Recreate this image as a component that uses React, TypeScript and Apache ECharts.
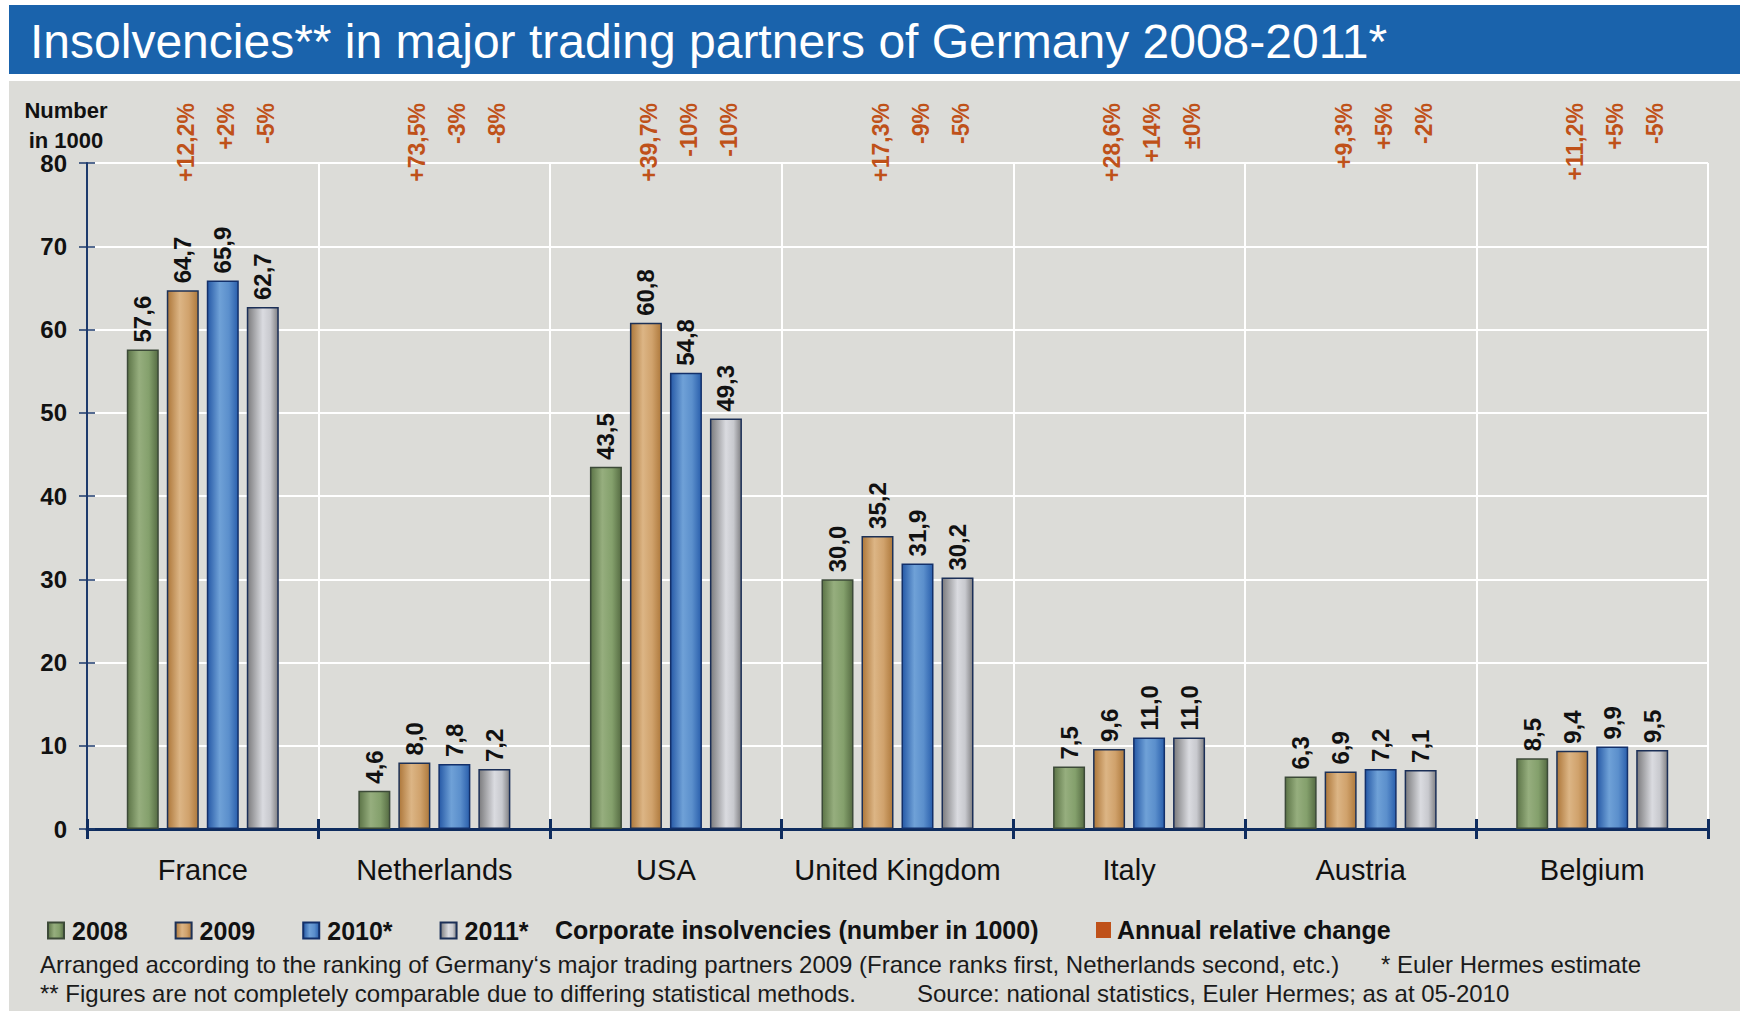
import React, { useEffect, useRef } from 'react';
import * as echarts from 'echarts';

const COUNTRIES = ['France', 'Netherlands', 'USA', 'United Kingdom', 'Italy', 'Austria', 'Belgium'];
const YEARS = ['2008', '2009', '2010*', '2011*'];
const V2008 = [57.6, 4.6, 43.5, 30.0, 7.5, 6.3, 8.5];
const V2009 = [64.7, 8.0, 60.8, 35.2, 9.6, 6.9, 9.4];
const V2010 = [65.9, 7.8, 54.8, 31.9, 11.0, 7.2, 9.9];
const V2011 = [62.7, 7.2, 49.3, 30.2, 11.0, 7.1, 9.5];
const PCT2009 = ['+12,2%', '+73,5%', '+39,7%', '+17,3%', '+28,6%', '+9,3%', '+11,2%'];
const PCT2010 = ['+2%', '-3%', '-10%', '-9%', '+14%', '+5%', '+5%'];
const PCT2011 = ['-5%', '-8%', '-10%', '-5%', '±0%', '-2%', '-5%'];
const Y_MIN = 0;
const Y_MAX = 80;
const Y_STEP = 10;

const TITLE = 'Insolvencies** in major trading partners of Germany 2008-2011*';
const Y_NAME = ['Number', 'in 1000'];
const LEGEND_NOTE = 'Corporate insolvencies (number in 1000)';
const LEGEND_PCT = 'Annual relative change';
const NOTE1 = 'Arranged according to the ranking of Germany‘s major trading partners 2009 (France ranks first, Netherlands second, etc.)';
const NOTE1B = '* Euler Hermes estimate';
const NOTE2 = '** Figures are not completely comparable due to differing statistical methods.';
const NOTE2B = 'Source: national statistics, Euler Hermes; as at 05-2010';

const FONT = '"Liberation Sans", Arial, sans-serif';
const NAVY = '#0e2c5e';
const PCT_COLOR = '#bf5119';

const grad = (stops: [number, string][]) =>
  new echarts.graphic.LinearGradient(0, 0, 1, 0, stops.map(([offset, color]) => ({ offset, color })));

const STYLES = [
  { fill: grad([[0, '#5c7447'], [0.38, '#96ae7e'], [0.7, '#84a06c'], [1, '#566c43']]), border: '#3c4a38' },
  { fill: grad([[0, '#ad773a'], [0.4, '#dcb585'], [0.7, '#d0a26c'], [1, '#ae793c']]), border: '#1d3156' },
  { fill: grad([[0, '#2659a6'], [0.4, '#6fa1d7'], [0.7, '#5b8fcc'], [1, '#2a5fac']]), border: '#13306a' },
  { fill: grad([[0, '#7b7b7d'], [0.5, '#dadbe0'], [0.75, '#c8c9ce'], [1, '#808083']]), border: '#1b2f57' },
];

const fmt = (v: number) => v.toFixed(1).replace('.', ',');

export default function App() {
  const ref = useRef<HTMLDivElement>(null);
  useEffect(() => {
    if (!ref.current) return;
    const chart = echarts.init(ref.current, undefined, { renderer: 'svg' });
    const values = [V2008, V2009, V2010, V2011];
    const pcts: (string[] | null)[] = [null, PCT2009, PCT2010, PCT2011];

    const barSeries = values.map((vals, i) => ({
      name: YEARS[i],
      type: 'bar',
      xAxisIndex: 0,
      yAxisIndex: 0,
      barWidth: 32,
      barGap: '25%',
      data: vals,
      itemStyle: { color: STYLES[i].fill, borderColor: STYLES[i].border, borderWidth: 1.5 },
      label: {
        show: true,
        position: 'top',
        distance: 7,
        rotate: 90,
        align: 'left',
        verticalAlign: 'middle',
        formatter: (p: any) => fmt(p.value),
        fontFamily: FONT,
        fontSize: 24,
        fontWeight: 'bold',
        color: '#111',
      },
      z: 3,
    }));

    const pctSeries = pcts.map((arr, i) => ({
      name: 'pct' + i,
      type: 'bar',
      xAxisIndex: 1,
      yAxisIndex: 0,
      barWidth: 32,
      barGap: '25%',
      silent: true,
      data: COUNTRIES.map(() => Y_MAX),
      itemStyle: { color: 'rgba(0,0,0,0)', borderWidth: 0 },
      label: {
        show: arr !== null,
        position: 'top',
        distance: 60,
        rotate: 90,
        align: 'right',
        verticalAlign: 'middle',
        offset: [0, 3],
        formatter: (p: any) => (arr ? arr[p.dataIndex] : ''),
        fontFamily: FONT,
        fontSize: 23,
        fontWeight: 'bold',
        color: PCT_COLOR,
      },
      z: 1,
    }));

    const txt = (x: number, y: number, text: string, size: number, bold: boolean, align = 'left', color = '#111') => ({
      type: 'text',
      x,
      y,
      silent: true,
      style: {
        text,
        fill: color,
        font: `${bold ? 'bold ' : ''}${size}px ${FONT}`,
        textAlign: align,
        textVerticalAlign: 'middle',
        align,
        verticalAlign: 'middle',
      },
    });

    chart.setOption({
      animation: false,
      backgroundColor: 'transparent',
      title: {
        text: TITLE,
        left: 25,
        top: 12,
        textStyle: { color: '#ffffff', fontSize: 48, fontWeight: 'normal', fontFamily: FONT, lineHeight: 48 },
      },
      grid: { left: 87, right: 32, top: 163, bottom: 182, containLabel: false },
      legend: {
        data: YEARS,
        left: 42,
        top: 913,
        itemWidth: 16,
        itemHeight: 16,
        itemGap: 47,
        icon: 'rect',
        selectedMode: false,
        textStyle: { fontFamily: FONT, fontSize: 25, fontWeight: 'bold', color: '#111', padding: [0, 0, 0, 3] },
      },
      xAxis: [
        {
          type: 'category',
          data: COUNTRIES,
          position: 'bottom',
          axisLine: { show: true, lineStyle: { color: NAVY, width: 3 } },
          axisTick: { show: true, length: 10, lineStyle: { color: NAVY, width: 3 } },
          axisLabel: { interval: 0, fontFamily: FONT, fontSize: 29, lineHeight: 29, color: '#111', margin: 26 },
          splitLine: { show: true, lineStyle: { color: '#ffffff', width: 2 } },
        },
        {
          type: 'category',
          data: COUNTRIES,
          position: 'bottom',
          axisLine: { show: false },
          axisTick: { show: true, inside: true, length: 10, lineStyle: { color: NAVY, width: 3 } },
          axisLabel: { show: false },
          splitLine: { show: false },
        },
      ],
      yAxis: [
        {
          type: 'value',
          min: Y_MIN,
          max: Y_MAX,
          interval: Y_STEP,
          position: 'left',
          axisLine: { show: true, lineStyle: { color: '#1d3a6c', width: 2 } },
          axisTick: { show: true, length: 8, lineStyle: { color: '#1d3a6c', width: 1.5 } },
          axisLabel: { fontFamily: FONT, fontSize: 24, fontWeight: 'bold', color: '#111', margin: 20 },
          splitLine: { show: true, lineStyle: { color: '#ffffff', width: 2 } },
        },
        {
          type: 'value',
          min: Y_MIN,
          max: Y_MAX,
          interval: Y_STEP,
          position: 'left',
          axisLine: { show: false },
          axisTick: { show: true, inside: true, length: 8, lineStyle: { color: '#1d3a6c', width: 1.5 } },
          axisLabel: { show: false },
          splitLine: { show: false },
        },
      ],
      graphic: [
        txt(66, 110, Y_NAME[0], 22, true, 'center'),
        txt(66, 140, Y_NAME[1], 22, true, 'center'),
        txt(555, 930, LEGEND_NOTE, 25, true),
        {
          type: 'rect',
          silent: true,
          shape: { x: 1096, y: 922, width: 15, height: 16 },
          style: { fill: PCT_COLOR },
        },
        txt(1117, 930, LEGEND_PCT, 25, true),
        txt(40, 964, NOTE1, 24, false, 'left', '#1a1a1a'),
        txt(1381, 964, NOTE1B, 24, false, 'left', '#1a1a1a'),
        txt(40, 993, NOTE2, 24, false, 'left', '#1a1a1a'),
        txt(917, 993, NOTE2B, 24, false, 'left', '#1a1a1a'),
      ],
      series: [...pctSeries, ...barSeries],
    });
    return () => chart.dispose();
  }, []);

  return (
    <div style={{ position: 'absolute', left: 0, top: 0, width: 1740, height: 1011, background: '#ffffff' }}>
      <div style={{ position: 'absolute', left: 9, top: 5, width: 1731, height: 69, background: '#1a63ac' }} />
      <div style={{ position: 'absolute', left: 9, top: 81, width: 1731, height: 930, background: '#dcdcd8' }} />
      <div ref={ref} style={{ position: 'absolute', left: 0, top: 0, width: 1740, height: 1011 }} />
    </div>
  );
}
